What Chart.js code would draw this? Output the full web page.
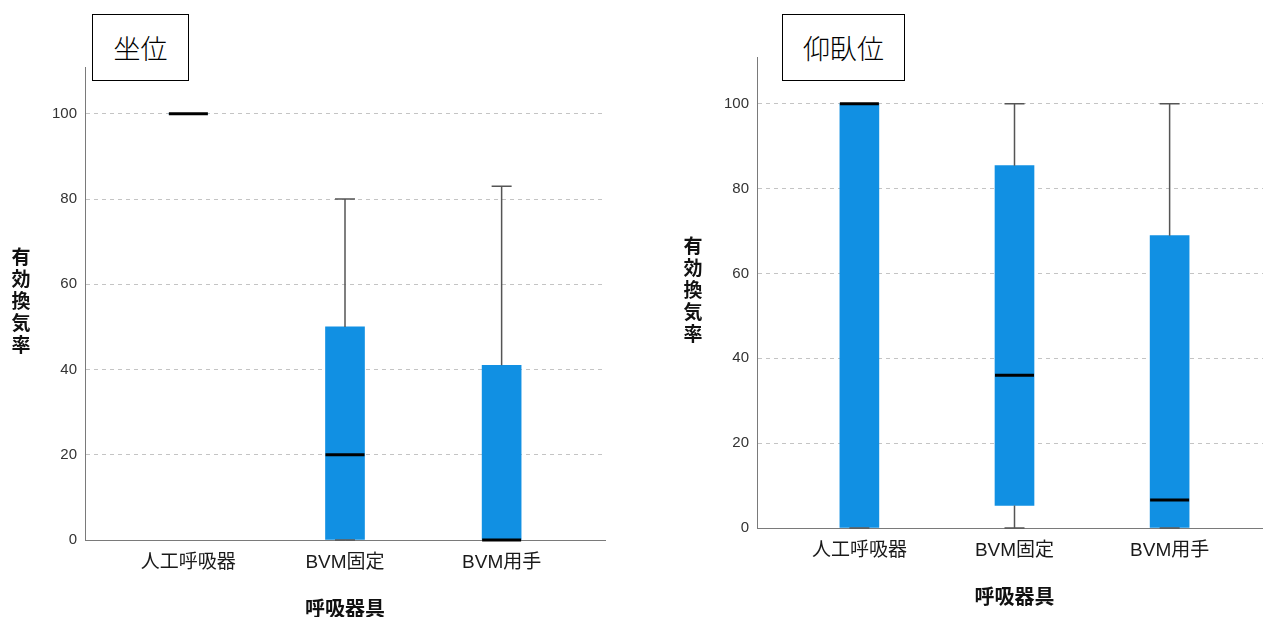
<!DOCTYPE html>
<html lang="ja">
<head>
<meta charset="utf-8">
<title>有効換気率</title>
<script src="https://cdn.jsdelivr.net/npm/chart.js@4/dist/chart.umd.min.js"></script>
<style>
    body { margin: 0; width: 1263px; height: 617px; overflow: hidden; position: relative; background: #fff; }
    .panel { position: absolute; top: 0; }
    .title-box {
        position: absolute; top: 14px; height: 67px; box-sizing: border-box;
        border: 1px solid #000; background: #fff;
        display: flex; align-items: center; justify-content: center;
        font-family: "Noto Sans CJK JP", sans-serif; font-weight: 300; font-size: 27px; color: #000;
    }
</style>
</head>
<body>
<div class="panel" style="left:0"><canvas id="sitChart" width="620" height="617"></canvas></div>
<div class="panel" style="left:640px"><canvas id="supChart" width="650" height="617"></canvas></div>
<div class="title-box" style="left:92px; width:97px">坐位</div>
<div class="title-box" style="left:782px; width:123px">仰臥位</div>

<script>
// カテゴリと目盛
const categories = ['人工呼吸器', 'BVM固定', 'BVM用手'];
const yTicks = [0, 20, 40, 60, 80, 100];
const yTitle = '有効換気率';
const xTitle = '呼吸器具';

// 坐位
const sitMin    = [100, 0, 0];
const sitQ1     = [100, 0, 0];
const sitMedian = [100, 20, 0];
const sitQ3     = [100, 50, 41];
const sitMax    = [100, 80, 83];

// 仰臥位
const supMin    = [0, 0, 0];
const supQ1     = [0, 5.3, 0];
const supMedian = [100, 36, 6.6];
const supQ3     = [100, 85.4, 68.9];
const supMax    = [100, 100, 100];

const BOX_COLOR = '#1190E3';
const BOX_WIDTH = 39;
const CAP_WIDTH = 20;

// ひげと中央値を描く
const boxWhiskerPlugin = {
    id: 'boxWhisker',
    afterDatasetsDraw(chart, args, opts) {
        const ctx = chart.ctx;
        const x = chart.scales.x, y = chart.scales.y;
        ctx.save();
        opts.median.forEach((m, i) => {
            const cx = x.getPixelForValue(i);
            ctx.strokeStyle = '#555';
            ctx.lineWidth = 1.5;
            ctx.beginPath();
            ctx.moveTo(cx, y.getPixelForValue(opts.q3[i]));
            ctx.lineTo(cx, y.getPixelForValue(opts.max[i]));
            ctx.moveTo(cx, y.getPixelForValue(opts.q1[i]));
            ctx.lineTo(cx, y.getPixelForValue(opts.min[i]));
            [opts.min[i], opts.max[i]].forEach(v => {
                const py = y.getPixelForValue(v);
                ctx.moveTo(cx - CAP_WIDTH / 2, py);
                ctx.lineTo(cx + CAP_WIDTH / 2, py);
            });
            ctx.stroke();
            // 中央値
            ctx.strokeStyle = '#000';
            ctx.lineWidth = 3;
            ctx.beginPath();
            const my = y.getPixelForValue(m);
            ctx.moveTo(cx - BOX_WIDTH / 2, my);
            ctx.lineTo(cx + BOX_WIDTH / 2, my);
            ctx.stroke();
        });
        ctx.restore();
    }
};

// 縦書きのY軸タイトル
const verticalTitlePlugin = {
    id: 'verticalTitle',
    afterDraw(chart) {
        const ctx = chart.ctx;
        const area = chart.chartArea;
        const chars = yTitle.split('');
        const step = 22;
        const cx = area.left - 64;
        const cy = (area.top + area.bottom) / 2 - 3;
        ctx.save();
        ctx.font = 'bold 19px "Noto Sans CJK JP", sans-serif';
        ctx.fillStyle = '#111';
        ctx.textAlign = 'center';
        ctx.textBaseline = 'middle';
        chars.forEach((c, i) => {
            ctx.fillText(c, cx, cy + (i - (chars.length - 1) / 2) * step);
        });
        ctx.restore();
    }
};

function makeChart(id, data, layout) {
    const ctx = document.getElementById(id).getContext('2d');
    return new Chart(ctx, {
        type: 'bar',
        data: {
            datasets: [{
                data: categories.map((c, i) => ({ x: i, y: [data.q1[i], data.q3[i]] })),
                backgroundColor: BOX_COLOR,
                borderWidth: 0,
                barThickness: BOX_WIDTH
            }]
        },
        options: {
            responsive: false,
            animation: false,
            layout: { padding: { top: layout.top, right: layout.right, left: 0, bottom: layout.bottom } },
            plugins: {
                legend: { display: false },
                tooltip: { enabled: false },
                boxWhisker: data
            },
            scales: {
                x: {
                    type: 'linear',
                    offset: false,
                    min: -0.66,
                    max: 2.66,
                    afterBuildTicks: s => { s.ticks = categories.map((c, i) => ({ value: i })); },
                    afterFit: s => { s.height = 77; },
                    grid: { display: true, offset: false, drawOnChartArea: false, drawTicks: false },
                    border: { color: '#7a7a7a', width: 1 },
                    ticks: {
                        autoSkip: false,
                        maxRotation: 0,
                        padding: 11,
                        color: '#1a1a1a',
                        font: { family: '"Liberation Sans", "Noto Sans CJK JP", sans-serif', size: 19 },
                        callback: v => categories[v]
                    },
                    title: {
                        display: true,
                        text: xTitle,
                        color: '#111',
                        padding: { top: 20, bottom: -3 },
                        font: { family: '"Noto Sans CJK JP", sans-serif', size: 20, weight: 'bold' }
                    }
                },
                y: {
                    min: 0,
                    max: 111,
                    afterBuildTicks: s => { s.ticks = yTicks.map(v => ({ value: v })); },
                    afterFit: s => { s.width = layout.yWidth; },
                    grid: { color: '#c4c4c4', lineWidth: 1, drawTicks: false },
                    border: { color: '#7a7a7a', width: 1, dash: [4, 4] },
                    ticks: {
                        padding: 8,
                        color: '#333',
                        font: { family: '"Liberation Sans", sans-serif', size: 15 }
                    }
                }
            }
        },
        plugins: [boxWhiskerPlugin, verticalTitlePlugin]
    });
}

makeChart('sitChart',
    { min: sitMin, q1: sitQ1, median: sitMedian, q3: sitQ3, max: sitMax },
    { top: 67, right: 15, bottom: 0, yWidth: 85 });

makeChart('supChart',
    { min: supMin, q1: supQ1, median: supMedian, q3: supQ3, max: supMax },
    { top: 57, right: 18, bottom: 12, yWidth: 117 });
</script>
</body>
</html>
